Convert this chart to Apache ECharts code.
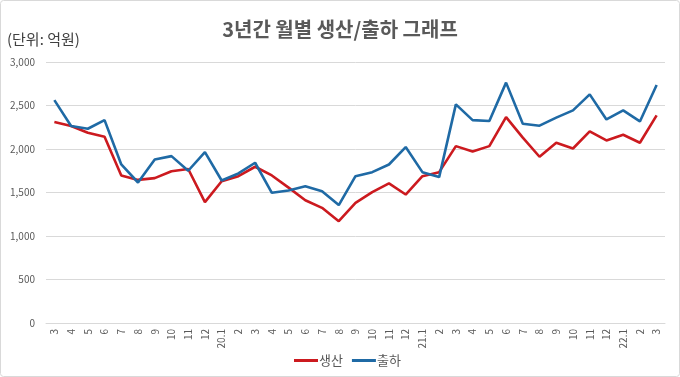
<!DOCTYPE html>
<html><head><meta charset="utf-8">
<script src="https://cdn.jsdelivr.net/npm/echarts@6/dist/echarts.min.js"></script>
<style>html,body{margin:0;padding:0;background:#fff}#c{width:680px;height:377px}</style>
</head><body><div id="c"></div>
<script>
var categories = ['3','4','5','6','7','8','9','10','11','12','20.1','2','3','4','5','6','7','8','9','10','11','12','21.1','2','3','4','5','6','7','8','9','10','11','12','22.1','2','3'];
var production = [2310,2265,2187,2141,1696,1645,1665,1745,1770,1390,1630,1688,1796,1696,1556,1411,1324,1170,1381,1504,1604,1477,1688,1734,2033,1972,2033,2367,2130,1911,2072,2006,2202,2098,2164,2072,2386];
var shipment = [2562,2265,2233,2332,1822,1615,1880,1918,1750,1964,1638,1719,1842,1497,1523,1573,1515,1355,1688,1734,1822,2022,1734,1677,2513,2332,2321,2763,2291,2268,2360,2444,2628,2340,2444,2317,2735];
var yTicks = {min:0, max:3000, interval:500};
var font = '"Noto Sans CJK KR", "Noto Sans", sans-serif';
var chart = echarts.init(document.getElementById('c'));
chart.setOption({
  animation:false,
  backgroundColor:'#fff',
  textStyle:{fontFamily:font},
  graphic:[{type:'rect',shape:{x:0.5,y:0.5,width:679,height:376,r:3},style:{fill:'none',stroke:'#D9D9D9',lineWidth:1},z:-1},
    {type:'text',left:7,top:32,style:{text:'(단위: 억원)',font:'15px '+font,fill:'#404040'}}],
  title:{text:'3년간 월별 생산/출하 그래프',left:'center',top:14,textStyle:{fontSize:20,fontWeight:'bold',color:'#595959',fontFamily:font}},
  legend:{top:349,left:289,icon:'rect',itemWidth:24,itemHeight:3,itemGap:9,textStyle:{fontSize:13,color:'#595959',fontFamily:font,padding:[0,0,0,-4]},data:['생산','출하']},
  grid:{left:46,right:15,top:62,bottom:54},
  xAxis:{type:'category',data:categories,boundaryGap:true,
    axisLine:{lineStyle:{color:'#D9D9D9'}},axisTick:{show:false},
    axisLabel:{rotate:90,interval:0,fontSize:10,color:'#595959',margin:6,fontFamily:font}},
  yAxis:{type:'value',min:yTicks.min,max:yTicks.max,interval:yTicks.interval,
    axisLine:{show:false},axisTick:{show:false},
    splitLine:{lineStyle:{color:'#D9D9D9'}},
    axisLabel:{fontSize:10,color:'#595959',margin:11,fontFamily:font,formatter:function(v){return v.toLocaleString('en-US');}}},
  series:[
    {name:'생산',type:'line',data:production,showSymbol:false,symbol:'none',lineStyle:{width:2.6,color:'#CC1A1F'},itemStyle:{color:'#CC1A1F'}},
    {name:'출하',type:'line',data:shipment,showSymbol:false,symbol:'none',lineStyle:{width:2.6,color:'#1F6AA5'},itemStyle:{color:'#1F6AA5'}}
  ]
});
</script></body></html>
